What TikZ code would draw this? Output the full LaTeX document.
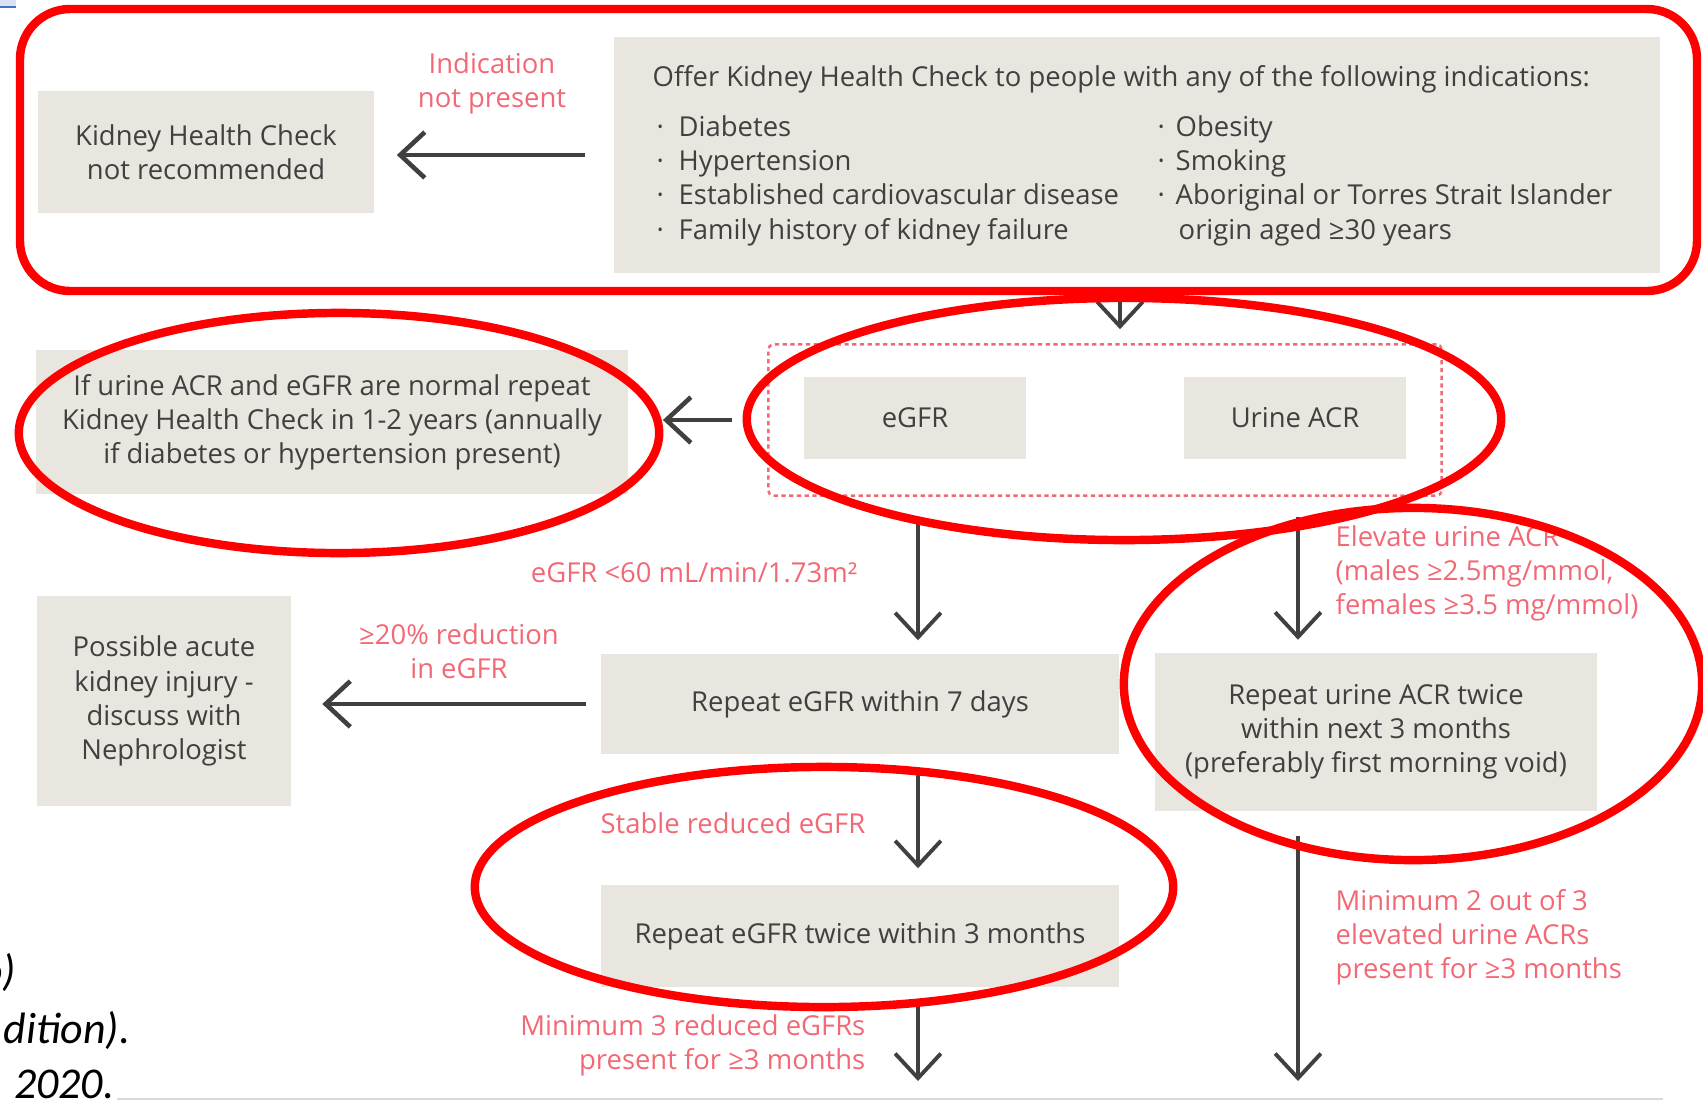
\documentclass[tikz,border=0pt]{standalone}
\usepackage{fontspec}
\setmainfont{Open Sans}
\newfontfamily\slidefont{Carlito}
\usetikzlibrary{arrows.meta}

\definecolor{boxfill}{RGB}{233,230,224}
\definecolor{boxtext}{RGB}{64,64,64}
\definecolor{notered}{RGB}{242,104,116}
\definecolor{ringred}{RGB}{255,0,0}
\definecolor{arrowgray}{RGB}{64,64,64}
\definecolor{tabblue}{RGB}{68,114,196}

\begin{document}
\begin{tikzpicture}[x=0.01cm, y=-0.01cm,
    stepbox/.style={fill=boxfill, text=boxtext, align=center, inner sep=0pt,
        font=\fontsize{7.8}{9.7}\selectfont},
    boxline/.style={text=boxtext, inner sep=0pt, anchor=base west,
        font=\fontsize{7.8}{9.7}\selectfont},
    note/.style={text=notered, inner sep=0pt, font=\fontsize{7.8}{9.7}\selectfont},
    slide/.style={anchor=base east, inner sep=0pt,
        font=\slidefont\itshape\fontsize{12.5}{15}\selectfont},
    flow/.style={draw=arrowgray, line width=1.3pt,
        -{Straight Barb[length=7pt,width=13pt]}},
    downflow/.style={flow, line width=1.1pt},
    redring/.style={draw=ringred, line width=2.4pt}]
    \useasboundingbox (0,0) rectangle (1703,1100);

    % slide leftovers
    \fill[tabblue!20] (0,0) rectangle (16,6);
    \fill[tabblue] (0,6) rectangle (16,8);
    \draw[black!15, line width=0.5pt] (117,1099) -- (1663,1099);
    \node[slide] (cut1) at (17,985) {o)};
    \node[slide] (cut2) at (131,1043) {dition).};
    \node[slide] (cut3) at (115,1098) {2020.};

    % top row
    \node[stepbox, minimum width=3.36cm, minimum height=1.22cm] (notrec) at (206,152) {Kidney Health Check\\not recommended};
    \node[stepbox, minimum width=10.45cm, minimum height=2.35cm] (offer) at (1137,155) {};
    \node[boxline] (title) at (652,87) {Offer Kidney Health Check to people with any of the following indications:};
    \foreach \txt [count=\i] in {Diabetes, Hypertension, Established cardiovascular disease, Family history of kidney failure} {
        \node[boxline] (left\i) at (656,102+34.3*\i) {\makebox[0.22cm][l]{·}\txt};
    }
    \foreach \txt [count=\i] in {Obesity, Smoking, Aboriginal or Torres Strait Islander} {
        \node[boxline] (right\i) at (1157,102+34.3*\i) {\makebox[0.18cm][l]{·}\txt};
    }
    \node[boxline] (right4) at (1178,239) {origin aged ≥30 years};
    \node[note, align=center] (nopres) at (492,83) {Indication\\not present};

    % tests
    \node[draw=notered, dash pattern=on 1.2pt off 1pt, line width=0.7pt, rounded corners=0.05cm,
        minimum width=6.73cm, minimum height=1.51cm] (grp) at (1105,420) {};
    \node[stepbox, minimum width=2.21cm, minimum height=0.81cm] (egfr) at (915,418) {eGFR};
    \node[stepbox, minimum width=2.22cm, minimum height=0.81cm] (acr) at (1295,418) {Urine ACR};
    \node[stepbox, minimum width=5.92cm, minimum height=1.44cm] (normal) at (332,422) {If urine ACR and eGFR are normal repeat\\Kidney Health Check in 1-2 years (annually\\if diabetes or hypertension present)};

    % eGFR branch
    \node[stepbox, minimum width=5.17cm, minimum height=1.00cm] (rep7) at (860,704) {Repeat eGFR within 7 days};
    \node[stepbox, minimum width=2.53cm, minimum height=2.10cm] (aki) at (164,701) {Possible acute\\kidney injury -\\discuss with\\Nephrologist};
    \node[stepbox, minimum width=5.17cm, minimum height=1.02cm] (rep3) at (860,936) {Repeat eGFR twice within 3 months};
    \node[note, anchor=east] (lowgfr) at (858,573) {eGFR <60 mL/min/1.73m²};
    \node[note, align=center] (drop) at (459,651) {≥20\% reduction\\in eGFR};
    \node[note, anchor=east] (stable) at (866,823) {Stable reduced eGFR};
    \node[note, anchor=east, align=right] (min3) at (866,1045) {Minimum 3 reduced eGFRs\\present for ≥3 months};

    % ACR branch
    \node[stepbox, minimum width=4.42cm, minimum height=1.57cm] (repacr) at (1376,732) {Repeat urine ACR twice\\within next 3 months\\(preferably first morning void)};
    \node[note, anchor=west, align=left] (highacr) at (1335,573) {Elevate urine ACR\\(males ≥2.5mg/mmol,\\females ≥3.5 mg/mmol)};
    \node[note, anchor=west, align=left] (min2) at (1335,937) {Minimum 2 out of 3\\elevated urine ACRs\\present for ≥3 months};

    \coordinate (endL) at (918,1081);
    \coordinate (endR) at (1298,1081);

    % arrows
    \draw[flow, shorten <=0.28cm, shorten >=0.22cm] (offer.west) -- (offer.west -| notrec.east);
    \draw[downflow, shorten <=0.15cm, shorten >=0.14cm] ([xshift=0.15cm]grp.north |- offer.south) -- ([xshift=0.15cm]grp.north);
    \draw[flow, shorten <=0.35cm, shorten >=0.34cm] (grp.west) -- (grp.west -| normal.east);
    \draw[downflow, shorten <=0.20cm, shorten >=0.13cm] (grp.south -| endL) -- (rep7.north -| endL);
    \draw[downflow, shorten <=0.20cm, shorten >=0.13cm] (grp.south -| endR) -- (repacr.north -| endR);
    \draw[flow, shorten <=0.15cm, shorten >=0.31cm] (rep7.west) -- (rep7.west -| aki.east);
    \draw[downflow, shorten <=0.14cm, shorten >=0.16cm] (rep7.south -| endL) -- (rep3.north -| endL);
    \draw[downflow, shorten <=0.18cm] (rep3.south -| endL) -- (endL);
    \draw[downflow, shorten <=0.25cm] (repacr.south -| endR) -- (endR);

    % red marks
    \draw[redring, rounded corners=0.5cm] (20,9) rectangle (1697,291);
    \draw[redring] (1124,419) ellipse [x radius=3.77cm, y radius=1.21cm];
    \draw[redring] (339,433) ellipse [x radius=3.20cm, y radius=1.20cm];
    \draw[redring] (1413,684) ellipse [x radius=2.89cm, y radius=1.76cm];
    \draw[redring] (824,887) ellipse [x radius=3.49cm, y radius=1.20cm];
\end{tikzpicture}
\end{document}
